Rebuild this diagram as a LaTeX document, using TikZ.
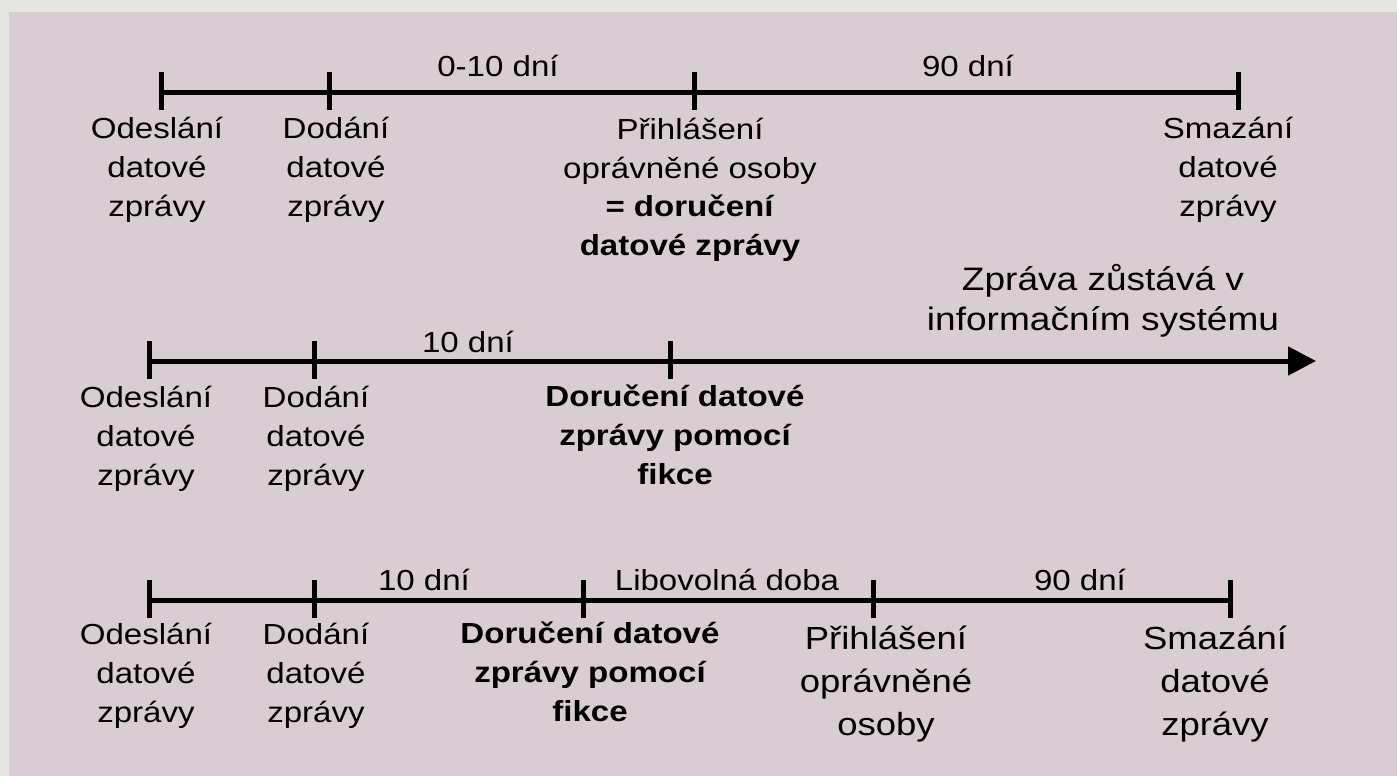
\documentclass[tikz,border=0pt]{standalone}
\usepackage{fontspec}
\setmainfont{Liberation Sans}[FakeStretch=1.14]
\usetikzlibrary{arrows.meta}
\definecolor{outerbg}{HTML}{E5E5E1}
\definecolor{innerbg}{HTML}{D9CDD3}
\begin{document}
\begin{tikzpicture}[x=1pt,y=-1pt,
  lbl/.style={font=\fontsize{29}{39}\selectfont, align=center, inner sep=0pt, anchor=base},
  boldlbl/.style={lbl, font=\fontsize{29}{39}\selectfont\bfseries},
  biglbl/.style={lbl, font=\fontsize{32}{43}\selectfont},
  axis/.style={line width=5pt},
  tickmark/.style={line width=5pt}]
\fill[outerbg] (0,0) rectangle (1397,776);
\fill[innerbg] (9,12) rectangle (1397,776);
\useasboundingbox (0,0) rectangle (1397,776);

% ---- Row 1 (base anchor = baseline of last line)
\coordinate (a1) at (161,92);
\coordinate (b1) at (329,92);
\coordinate (c1) at (694,92);
\coordinate (d1) at (1238,92);
\draw[axis] (a1) -- (d1);
\foreach \p in {a1,b1,c1,d1} \draw[tickmark] (\p) ++(0,-20) -- ++(0,38);
\node[lbl] (l1a) at (157,216) {Odeslání\\datové\\zprávy};
\node[lbl] (l1b) at (336,216) {Dodání\\datové\\zprávy};
\node[lbl, font=\fontsize{29}{38.5}\selectfont] (l1c) at (690,255) {Přihlášení\\oprávněné osoby\\\textbf{= doručení}\\\textbf{datové zprávy}};
\node[lbl] (l1d) at (1228,216) {Smazání\\datové\\zprávy};
\node[lbl] (s1a) at (498,77) {0-10 dní};
\node[lbl] (s1b) at (968,77) {90 dní};

% ---- Row 2
\coordinate (a2) at (149,361);
\coordinate (b2) at (314,361);
\coordinate (c2) at (670,361);
\coordinate (e2) at (1316,361);
\draw[axis, -{Triangle[length=28pt,width=28pt]}] (a2) -- (e2);
\foreach \p in {a2,b2,c2} \draw[tickmark] (\p) ++(0,-20) -- ++(0,38);
\node[lbl] (l2a) at (146,485) {Odeslání\\datové\\zprávy};
\node[lbl] (l2b) at (316,485) {Dodání\\datové\\zprávy};
\node[boldlbl] (l2c) at (675,484) {Doručení datové\\zprávy pomocí\\fikce};
\node[lbl] (s2a) at (468,352) {10 dní};
\node[lbl, font=\fontsize{32.5}{40}\selectfont] (s2b) at (1103,330) {Zpráva zůstává v\\informačním systému};

% ---- Row 3
\coordinate (a3) at (149,600);
\coordinate (b3) at (314,600);
\coordinate (c3) at (583,600);
\coordinate (d3) at (873,600);
\coordinate (f3) at (1230,600);
\draw[axis] (a3) -- (f3);
\foreach \p in {a3,b3,c3,d3,f3} \draw[tickmark] (\p) ++(0,-20) -- ++(0,38);
\node[lbl] (l3a) at (146,722) {Odeslání\\datové\\zprávy};
\node[lbl] (l3b) at (316,722) {Dodání\\datové\\zprávy};
\node[boldlbl] (l3c) at (590,721) {Doručení datové\\zprávy pomocí\\fikce};
\node[biglbl] (l3d) at (886,735) {Přihlášení\\oprávněné\\osoby};
\node[biglbl] (l3e) at (1215,735) {Smazání\\datové\\zprávy};
\node[lbl] (s3a) at (424,590) {10 dní};
\node[lbl] (s3b) at (727,590) {Libovolná doba};
\node[lbl] (s3c) at (1080,590) {90 dní};
\end{tikzpicture}
\end{document}
